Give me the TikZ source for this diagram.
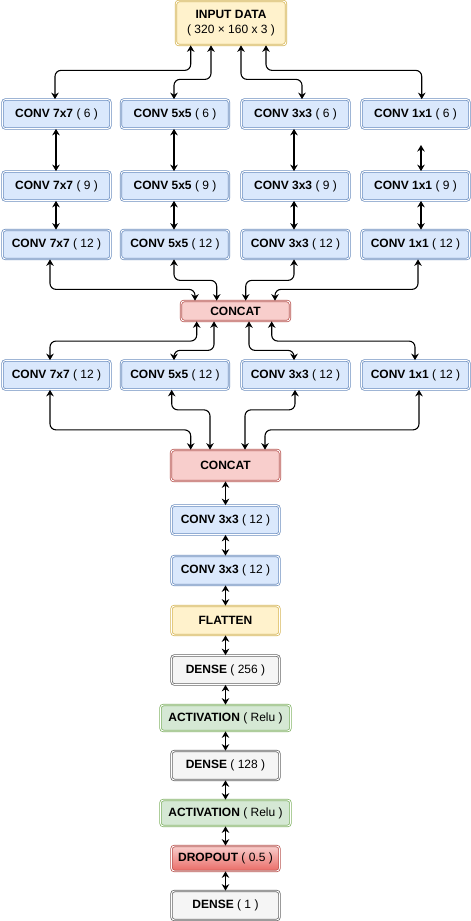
\documentclass[tikz,border=0pt]{standalone}
\usepackage{fontspec}
\setmainfont{Liberation Sans}
\usetikzlibrary{arrows.meta}
\definecolor{bfill}{HTML}{DAE8FC}\definecolor{bline}{HTML}{6C8EBF}
\definecolor{yfill}{HTML}{FFF2CC}\definecolor{yline}{HTML}{D6B656}
\definecolor{rfill}{HTML}{F8CECC}\definecolor{rline}{HTML}{B85450}\definecolor{rdark}{HTML}{EA6B66}
\definecolor{gfill}{HTML}{F5F5F5}\definecolor{gline}{HTML}{666666}
\definecolor{nfill}{HTML}{D5E8D4}\definecolor{nline}{HTML}{82B366}
\tikzset{
  box/.style={rounded corners=3pt, minimum width=108pt, minimum height=29pt, inner sep=0pt,
    line width=0.75pt, double=white, double distance=0.9pt, font=\fontsize{12}{15}\selectfont},
  bluebox/.style={box, draw=bline, fill=bfill},
  yellowbox/.style={box, draw=yline, fill=yfill},
  redbox/.style={box, draw=rline, fill=rfill},
  graybox/.style={box, draw=gline, fill=gfill},
  greenbox/.style={box, draw=nline, fill=nfill, minimum width=130pt, minimum height=26pt},
  dropbox/.style={box, draw=rline, top color=rfill, bottom color=rdark, minimum height=25pt},
  conn/.style={line width=1.1pt, rounded corners=6pt,
    {Stealth[length=6.5pt,width=7.5pt]}-{Stealth[length=6.5pt,width=7.5pt]}}
}
\begin{document}
\begin{tikzpicture}[x=1pt,y=-1pt]
\useasboundingbox (0,0) rectangle (471,921);
\node[yellowbox, minimum width=110pt, minimum height=44pt, align=center] (in) at (231,23)
  {\textbf{INPUT DATA}\\( 320 × 160 x 3 )};
% rows
\foreach \r/\y/\n in {1/114/6, 2/186/9, 3/244.5/12, 4/375/12}{
  \node[bluebox] (r\r c1) at (56.5,\y) {\textbf{CONV 7x7} ( \n\ )};
  \node[bluebox] (r\r c2) at (175,\y) {\textbf{CONV 5x5} ( \n\ )};
  \node[bluebox] (r\r c3) at (295.5,\y) {\textbf{CONV 3x3} ( \n\ )};
  \node[bluebox] (r\r c4) at (415.5,\y) {\textbf{CONV 1x1} ( \n\ )};
}
\node[redbox, minimum width=109pt, minimum height=20pt] (k1) at (235.5,311) {\textbf{CONCAT}};
\node[redbox, minimum width=109pt, minimum height=31pt] (k2) at (225.5,465.5) {\textbf{CONCAT}};
\node[bluebox] (b1) at (225.5,520) {\textbf{CONV 3x3} ( 12 )};
\node[bluebox] (b2) at (225.5,570.5) {\textbf{CONV 3x3} ( 12 )};
\node[yellowbox] (fl) at (225.5,620.5) {\textbf{FLATTEN}};
\node[graybox] (d1) at (225.5,670) {\textbf{DENSE} ( 256 )};
\node[greenbox] (a1) at (225.5,718) {\textbf{ACTIVATION} ( Relu )};
\node[graybox] (d2) at (225.5,765.5) {\textbf{DENSE} ( 128 )};
\node[greenbox] (a2) at (225.5,813) {\textbf{ACTIVATION} ( Relu )};
\node[dropbox] (dr) at (225.5,858.5) {\textbf{DROPOUT} ( 0.5 )};
\node[graybox] (d3) at (225.5,905.5) {\textbf{DENSE} ( 1 )};
% input -> row1
\draw[conn] ([xshift=-40.3]in.south) -- ++(0,25) -| ([xshift=-1.5]r1c1.north);
\draw[conn] ([xshift=-20]in.south) -- ++(0,34) -| ([xshift=-1]r1c2.north);
\draw[conn] ([xshift=10]in.south) -- ++(0,34) -| ([xshift=6.5]r1c3.north);
\draw[conn] ([xshift=35]in.south) -- ++(0,25) -| ([xshift=6.2]r1c4.north);
% row1 -> row2, row2 -> row3
\foreach \c/\s in {1/-0.5, 2/-1, 3/-1.5}{
  \draw[conn] ([xshift=\s]r1c\c.south) -- ([xshift=\s]r2c\c.north);
}
\coordinate (g4) at (421,145);
\draw[conn] (g4) -- (g4 |- r2c4.north);
\foreach \c/\s in {1/-0.5, 2/-1, 3/-1.5, 4/5.5}{
  \draw[conn] ([xshift=\s]r2c\c.south) -- ([xshift=\s]r3c\c.north);
}
% row3 -> concat1
\draw[conn] ([xshift=-6.5]r3c1.south) -- ++(0,30) -| ([xshift=-40.5]k1.north);
\draw[conn] ([xshift=-1]r3c2.south) -- ++(0,21) -| ([xshift=-18.8]k1.north);
\draw[conn] ([xshift=-1.5]r3c3.south) -- ++(0,21) -| ([xshift=10.2]k1.north);
\draw[conn] ([xshift=2.5]r3c4.south) -- ++(0,30) -| ([xshift=39.5]k1.north);
% concat1 -> row4
\draw[conn] ([xshift=-38.8]k1.south) -- ++(0,19.7) -| ([xshift=-6.5]r4c1.north);
\draw[conn] ([xshift=-21.5]k1.south) -- ++(0,29) -| ([xshift=-1]r4c2.north);
\draw[conn] ([xshift=13.5]k1.south) -- ++(0,29) -| ([xshift=-1.5]r4c3.north);
\draw[conn] ([xshift=36.2]k1.south) -- ++(0,19.7) -| ([xshift=-0.5]r4c4.north);
% row4 -> concat2
\draw[conn] ([xshift=-6.5]r4c1.south) -- ++(0,40) -| ([xshift=-34.8]k2.north);
\draw[conn] ([xshift=-3.3]r4c2.south) -- ++(0,20) -| ([xshift=-15.5]k2.north);
\draw[conn] ([xshift=-0.5]r4c3.south) -- ++(0,20) -| ([xshift=19.5]k2.north);
\draw[conn] ([xshift=3.5]r4c4.south) -- ++(0,40) -| ([xshift=39.5]k2.north);
% chain
\draw[conn] (k2.south) -- (b1.north);
\draw[conn] (b1.south) -- (b2.north);
\draw[conn] (b2.south) -- (fl.north);
\draw[conn] (fl.south) -- (d1.north);
\draw[conn] (d1.south) -- (a1.north);
\draw[conn] (a1.south) -- (d2.north);
\draw[conn] (d2.south) -- (a2.north);
\draw[conn] (a2.south) -- (dr.north);
\draw[conn] (dr.south) -- (d3.north);
\end{tikzpicture}
\end{document}
